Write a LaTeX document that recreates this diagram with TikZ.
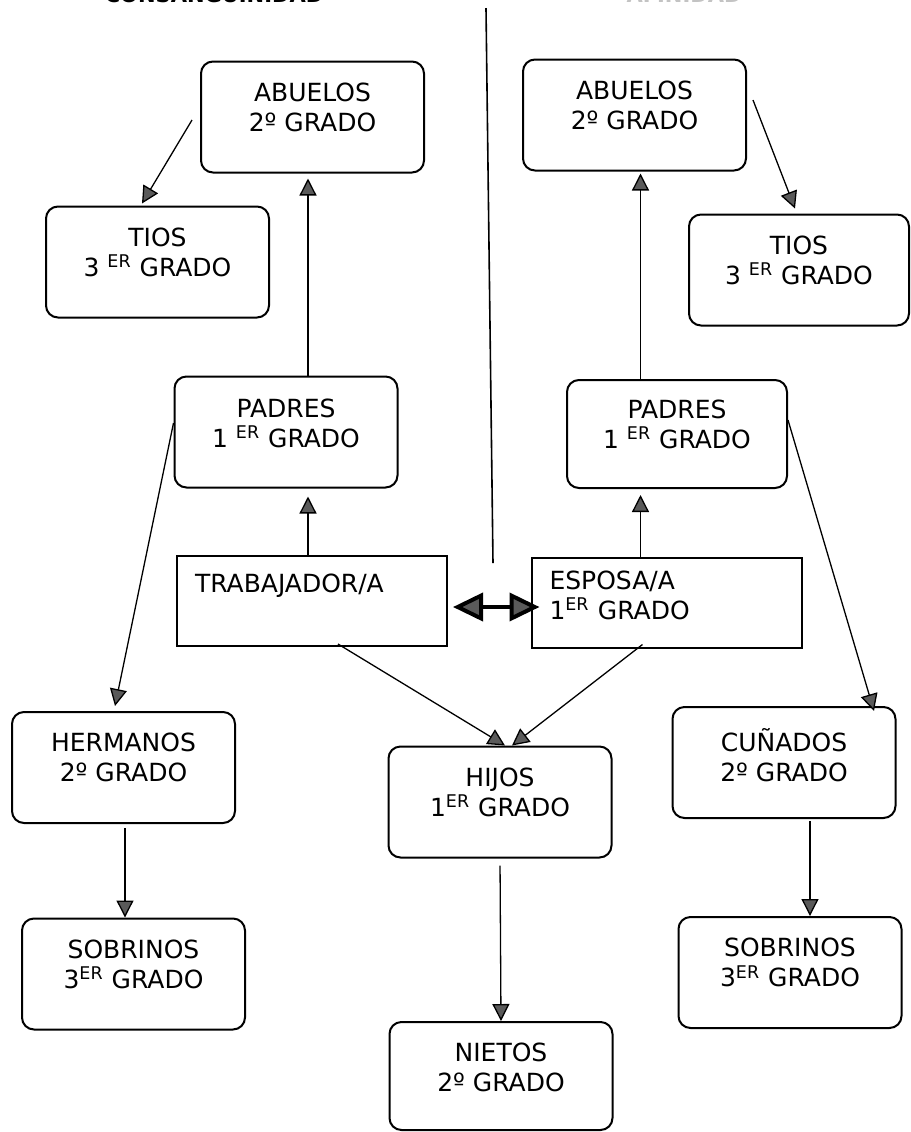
\documentclass[tikz,border=0pt]{standalone}
\usepackage{fontspec}
\setmainfont{DejaVu Sans}
\usetikzlibrary{arrows.meta}
\definecolor{cabeza}{RGB}{90,90,90}
\definecolor{tenue}{RGB}{195,195,195}
\newcommand{\abajo}[1]{\rule[-#1]{0pt}{#1}}

\begin{document}
\begin{tikzpicture}[x=0.5pt,y=-0.5pt]
			\tikzstyle{caja}=[draw=black, line width=1pt, rounded corners=6pt, minimum width=111.5pt, minimum height=55.5pt, inner sep=2pt, align=center, font=\fontsize{12.5}{15}\selectfont]
			\tikzstyle{recto}=[draw=black, line width=1pt, minimum width=135pt, minimum height=45pt, inner xsep=9pt, text width=117pt, align=left, font=\fontsize{12.5}{15}\selectfont]
			\tikzstyle{flecha}=[line width=0.65pt, -{Triangle[length=8.5pt,width=8.5pt,fill=cabeza]}]
			\tikzstyle{doble}=[line width=2pt, {Triangle[length=15pt,width=14pt,fill=cabeza]}-{Triangle[length=15pt,width=14pt,fill=cabeza]}]
			\tikzstyle{titulo}=[anchor=base, inner sep=0pt, font=\fontsize{10.5}{12}\selectfont\bfseries]
			
			\useasboundingbox (0,0) rectangle (911,1132);
			\clip (0,0) rectangle (911,1132);
			
			\node at (214, 2.5) [titulo] (consang) {CONSANGUINIDAD};
			\node at (684, 2.5) [titulo, text=tenue] (afin) {AFINIDAD};
			\draw [line width=0.8pt] (486,8) -- (493,563);
			
			% lado del trabajador
			\node at (312.5, 117) [caja] (ab1) {ABUELOS\\2º GRADO\abajo{10pt}};
			\node at (157.5, 262) [caja] (tio1) {TIOS\\3 \textsuperscript{ER} GRADO\abajo{10pt}};
			\node at (286, 432) [caja] (pad1) {PADRES\\1 \textsuperscript{ER} GRADO\abajo{9pt}};
			\node at (312, 601) [recto] (trab) {TRABAJADOR/A\abajo{18pt}};
			\node at (123.5, 767.5) [caja] (her) {HERMANOS\\2º GRADO\abajo{10pt}};
			\node at (133.5, 974) [caja] (sob1) {SOBRINOS\\3\textsuperscript{ER} GRADO\abajo{10pt}};
			
			% lado de la esposa
			\node at (634.5, 115) [caja] (ab2) {ABUELOS\\2º GRADO\abajo{10pt}};
			\node at (799, 270) [caja, minimum width=110pt] (tio2) {TIOS\\3 \textsuperscript{ER} GRADO\abajo{10pt}};
			\node at (677, 434) [caja, minimum width=110pt, minimum height=54pt] (pad2) {PADRES\\1 \textsuperscript{ER} GRADO\abajo{10pt}};
			\node at (666.5, 602.5) [recto] (esp) {ESPOSA/A\\1\textsuperscript{ER} GRADO\abajo{7.5pt}};
			\node at (784, 762.5) [caja] (cun) {CUÑADOS\\2º GRADO\abajo{8pt}};
			\node at (790, 972.5) [caja] (sob2) {SOBRINOS\\3\textsuperscript{ER} GRADO\abajo{10pt}};
			
			% descendientes
			\node at (500, 802) [caja] (hij) {HIJOS\\1\textsuperscript{ER} GRADO\abajo{10pt}};
			\node at (501, 1076) [caja, minimum height=54pt] (nie) {NIETOS\\2º GRADO\abajo{9pt}};
			
			\draw [flecha] ([xshift=-4pt,yshift=-1.5pt]ab1.west) to ([xshift=-7.75pt,yshift=1pt]tio1.north);
			\draw [flecha, shorten >=2.5pt] ([xshift=-2pt]trab.north |- pad1.north) to ([xshift=-2pt]trab.north |- ab1.south);
			\draw [flecha, shorten >=4pt] ([xshift=-2pt]trab.north) to ([xshift=-2pt]trab.north |- pad1.south);
			\draw [flecha] ([yshift=4.5pt]pad1.west) to ([xshift=-4.25pt,yshift=2.5pt]her.north);
			\draw [flecha, shorten <=2pt] ([xshift=0.75pt]her.south) to ([xshift=0.75pt]her.south |- sob1.north);
			
			\draw [flecha] ([xshift=3pt,yshift=7.5pt]ab2.east) to ([xshift=-2pt,yshift=2.5pt]tio2.north);
			\draw [flecha, shorten >=1pt] ([xshift=-13pt]esp.north |- pad2.north) to ([xshift=-13pt]esp.north |- ab2.south);
			\draw [flecha, shorten >=3pt] ([xshift=-13pt]esp.north) to ([xshift=-13pt]esp.north |- pad2.south);
			\draw [flecha] ([yshift=7pt]pad2.east) to ([xshift=-11.25pt,yshift=-2.5pt]cun.north east);
			\draw [flecha, shorten <=1pt] ([xshift=13pt]cun.south) to ([xshift=13pt]cun.south |- sob2.north);
			
			\draw [flecha] ([xshift=13pt,yshift=1.5pt]trab.south) to ([xshift=2.5pt]hij.north);
			\draw [flecha] ([xshift=-12pt,yshift=2pt]esp.south) to ([xshift=6pt]hij.north);
			\draw [flecha, shorten <=3.5pt] (hij.south) to (nie.north);
			
			\draw [doble] ([xshift=2.5pt,yshift=-3pt]trab.east) to ([xshift=4.5pt,yshift=-2.25pt]esp.west);
\end{tikzpicture}
\end{document}
